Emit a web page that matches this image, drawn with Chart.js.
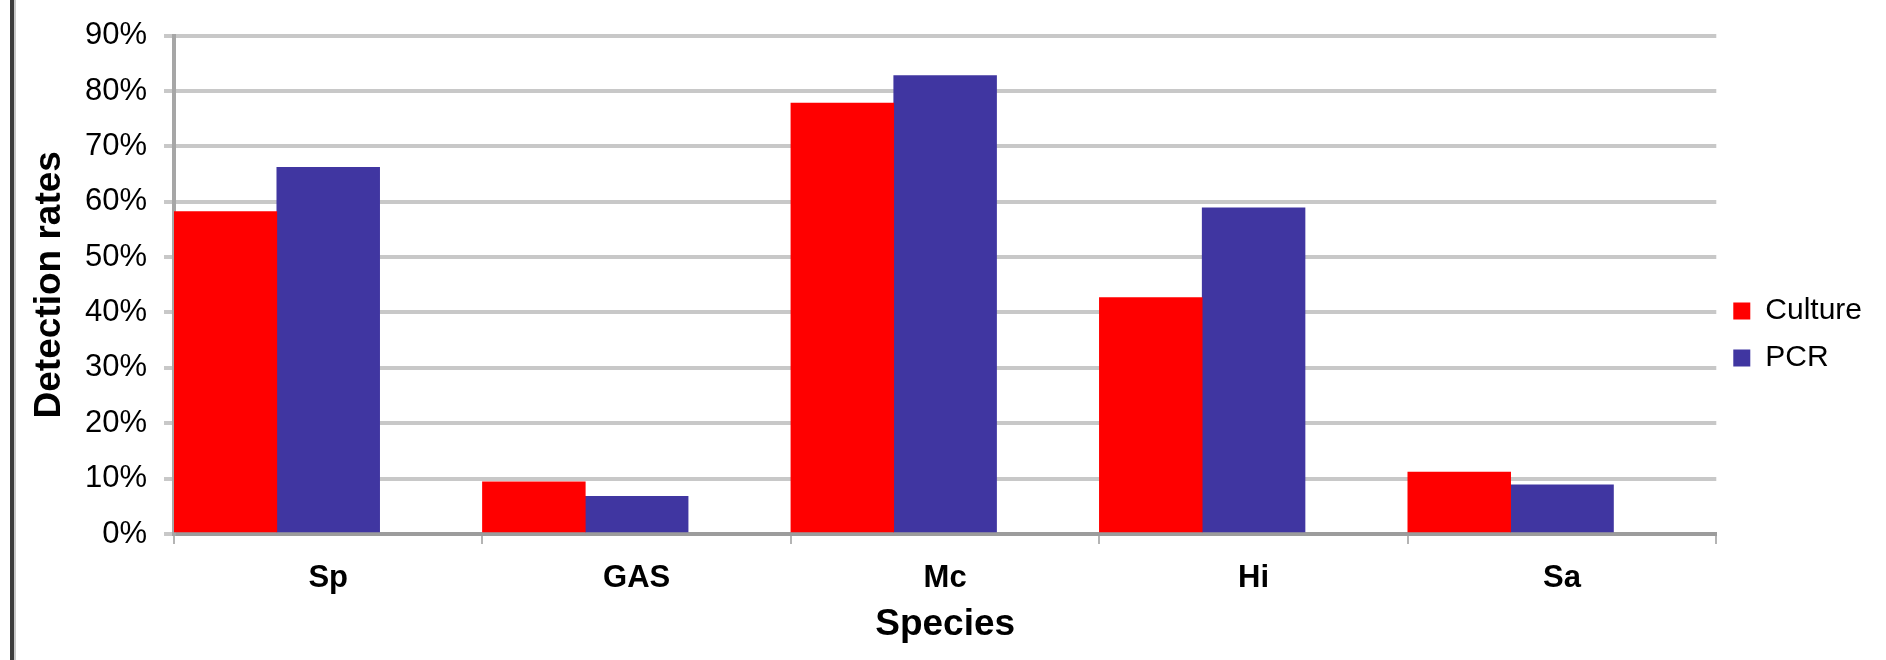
<!DOCTYPE html>
<html>
<head>
<meta charset="utf-8">
<title>Detection rates by species</title>
<script src="https://cdn.jsdelivr.net/npm/chart.js@4/dist/chart.umd.min.js"></script>
<style>
  html, body { margin: 0; padding: 0; background: #ffffff; }
  #wrap { position: relative; width: 1886px; height: 660px; }
  #frame { position: absolute; left: 10px; top: 0; width: 4px; height: 660px; background: #3c3c3c; box-shadow: 2px 0 0 #c8c8c8; }
  #chart { position: absolute; left: 0; top: 0; }
</style>
</head>
<body>
<div id="wrap">
  <div id="frame"></div>
  <canvas id="chart" width="1886" height="660"></canvas>
</div>
<script>
// Species on the category axis
const species = ['Sp', 'GAS', 'Mc', 'Hi', 'Sa'];

// Detection rates in percent
const cultureRates = [58.2, 9.4, 77.8, 42.7, 11.2];
const pcrRates = [66.2, 6.8, 82.8, 58.9, 8.9];

// Value axis ticks (percent)
const yTicks = [0, 10, 20, 30, 40, 50, 60, 70, 80, 90];

const FONT = "'Liberation Sans', Arial, Helvetica, sans-serif";
const GRID = '#c8c8c8';

new Chart(document.getElementById('chart'), {
  type: 'bar',
  data: {
    labels: species,
    datasets: [
      { label: 'Culture', data: cultureRates, backgroundColor: '#ff0000', borderWidth: 0 },
      { label: 'PCR', data: pcrRates, backgroundColor: '#4036a1', borderWidth: 0 },
      // empty third slot keeps each pair at the left of its category
      { label: '', data: [], backgroundColor: 'rgba(0,0,0,0)', borderWidth: 0 }
    ]
  },
  options: {
    responsive: false,
    animation: false,
    devicePixelRatio: 1,
    categoryPercentage: 1,
    barPercentage: 1,
    layout: { padding: { top: 34, left: 0, right: 14, bottom: 25 } },
    plugins: {
      tooltip: { enabled: false },
      legend: {
        position: 'right',
        labels: {
          color: '#000',
          font: { family: FONT, size: 30 },
          boxWidth: 17,
          boxHeight: 17,
          padding: 17,
          filter: item => item.text !== ''
        }
      }
    },
    scales: {
      x: {
        afterFit: axis => { axis.height = 101; },
        grid: {
          display: true,
          drawOnChartArea: false,
          drawTicks: true,
          tickLength: 10,
          color: '#b4b4b4',
          lineWidth: 2
        },
        border: { display: true, color: '#9c9c9c', width: 4 },
        ticks: {
          color: '#000',
          padding: 16,
          font: { family: FONT, size: 31, weight: 'bold' }
        },
        title: {
          display: true,
          text: 'Species',
          color: '#000',
          padding: { top: 0, bottom: -12 },
          font: { family: FONT, size: 37, weight: 'bold' }
        }
      },
      y: {
        min: 0,
        max: 90,
        afterFit: axis => { axis.width = 174; },
        afterBuildTicks: axis => { axis.ticks = yTicks.map(v => ({ value: v })); },
        grid: {
          color: GRID,
          lineWidth: 4,
          drawTicks: true,
          tickLength: 10
        },
        border: { display: true, color: '#a6a6a6', width: 4 },
        ticks: {
          color: '#000',
          padding: 17,
          font: { family: FONT, size: 31 },
          callback: v => v + '%'
        },
        title: {
          display: true,
          text: 'Detection rates',
          color: '#000',
          padding: { top: 28, bottom: 0 },
          font: { family: FONT, size: 37, weight: 'bold' }
        }
      }
    }
  }
});
</script>
</body>
</html>
